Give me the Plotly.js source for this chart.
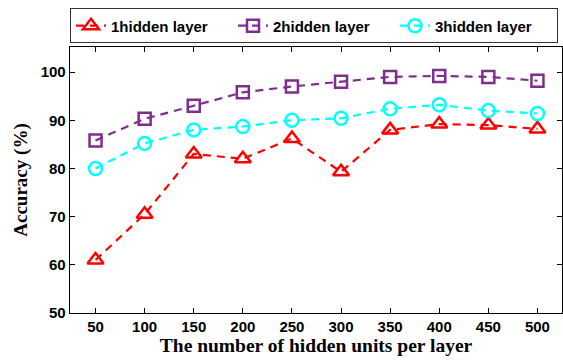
<!DOCTYPE html>
<html><head><meta charset="utf-8">
<script src="https://cdn.plot.ly/plotly-3.0.1.min.js"></script>
<style>body{margin:0;padding:0;background:#fff}</style>
</head><body>
<div id="chart" style="width:563px;height:363px"></div>
<script>
const units = [50, 100, 150, 200, 250, 300, 350, 400, 450, 500];
const hidden1 = [61.0, 70.5, 83.0, 82.0, 86.2, 79.3, 88.0, 89.2, 89.0, 88.2];
const hidden2 = [85.8, 90.3, 93.0, 95.8, 97.0, 98.0, 99.0, 99.2, 99.0, 98.2];
const hidden3 = [80.0, 85.2, 88.0, 88.7, 90.0, 90.4, 92.4, 93.2, 92.0, 91.4];
const names = ['1hidden layer', '2hidden layer', '3hidden layer'];
const yTicks = [50, 60, 70, 80, 90, 100];

const colors = ['#FF0000', '#7E2F8E', '#00FFFF'];
const symbols = ['triangle-up-open', 'square-open', 'circle-open'];
const sizes = [14, 12, 13];
const series = [hidden1, hidden2, hidden3];

const traces = series.map((s, i) => ({
  x: units, y: s, name: names[i], type: 'scatter', mode: 'lines+markers',
  line: {color: colors[i], width: 2.2, dash: '8px,6px'},
  marker: {symbol: symbols[i], size: sizes[i], color: colors[i], line: {width: 2.5, color: colors[i]}}
}));

const layout = {
  width: 563, height: 363,
  margin: {l: 70, r: 1, t: 47, b: 50},
  paper_bgcolor: '#fff', plot_bgcolor: '#fff',
  showlegend: true,
  legend: {orientation: 'h', x: 0, xanchor: 'left', y: 1.145, yanchor: 'top',
    bordercolor: '#333', borderwidth: 1, bgcolor: '#fff',
    font: {family: 'Liberation Sans, Arial', size: 15, color: '#000', weight: 'bold'},
    tracegroupgap: 0, itemwidth: 30, entrywidth: 117, entrywidthmode: 'pixels'},
  xaxis: {range: [24, 525], tickvals: units, ticks: 'inside', ticklen: 5, tickcolor: '#000',
    showline: true, linecolor: '#000', linewidth: 1.3, mirror: 'ticks', showgrid: false, zeroline: false,
    tickfont: {family: 'Liberation Sans, Arial', size: 15, color: '#000', weight: 'bold'},
    title: {text: 'The number of hidden units per layer', standoff: 4,
      font: {family: 'Liberation Serif, Times New Roman', size: 19.5, color: '#000', weight: 'bold'}}},
  yaxis: {range: [50, 105.2], tickvals: yTicks, ticks: 'inside', ticklen: 5, tickcolor: '#000',
    showline: true, linecolor: '#000', linewidth: 1.3, mirror: 'ticks', showgrid: false, zeroline: false,
    tickfont: {family: 'Liberation Sans, Arial', size: 15, color: '#000', weight: 'bold'},
    title: {text: 'Accuracy (%)', standoff: 8,
      font: {family: 'Liberation Serif, Times New Roman', size: 19, color: '#000', weight: 'bold'}}}
};

Plotly.newPlot('chart', traces, layout, {displayModeBar: false, staticPlot: true});
</script>
</body></html>
